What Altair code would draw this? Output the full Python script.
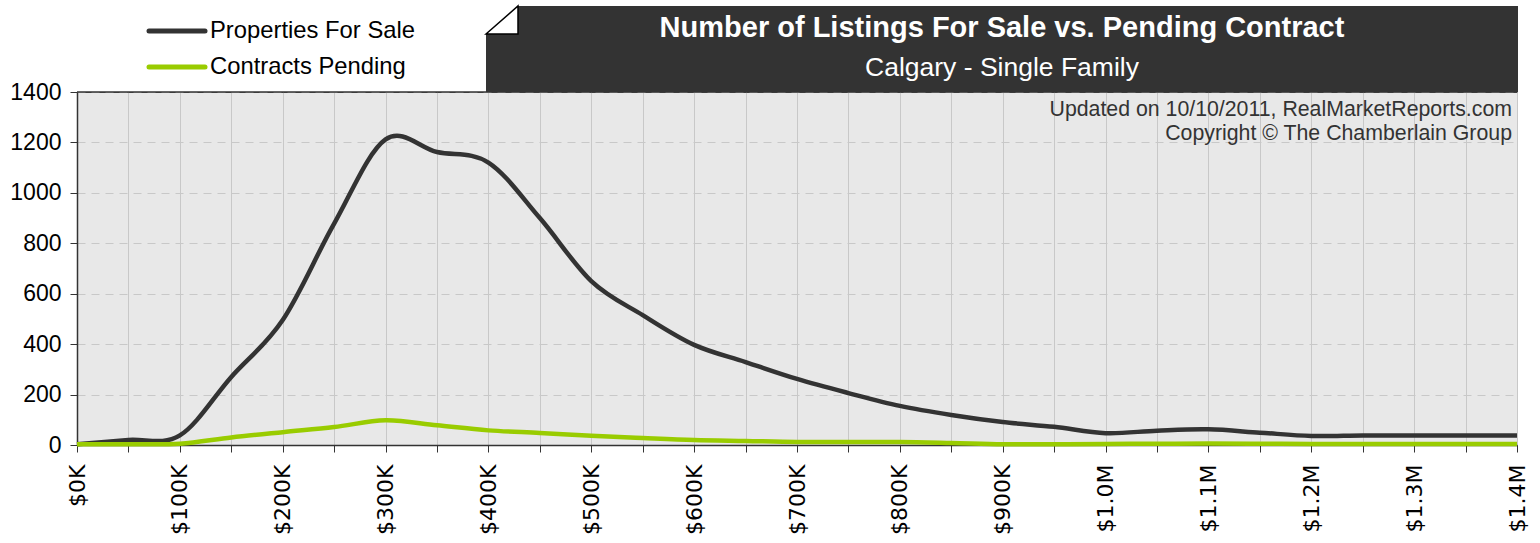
import altair as alt
import pandas as pd

# ---- data ----
prices = [0, 50000, 100000, 150000, 200000, 250000, 300000, 350000, 400000, 450000,
          500000, 550000, 600000, 650000, 700000, 750000, 800000, 850000, 900000, 950000,
          1000000, 1050000, 1100000, 1150000, 1200000, 1250000, 1300000, 1350000, 1400000]
for_sale = [3, 20, 38, 270, 496, 878, 1212, 1162, 1120, 900,
            650, 515, 397, 329, 262, 206, 155, 119, 91, 72,
            47, 57, 62, 49, 36, 38, 38, 38, 38]
pending = [3, 3, 5, 30, 51, 71, 98, 78, 58, 48,
           37, 28, 20, 16, 12, 12, 12, 8, 3, 3,
           4, 5, 6, 5, 4, 4, 4, 4, 4]
series_names = ["Properties For Sale", "Contracts Pending"]
series_colors = ["#333333", "#99cc00"]
x_ticks = list(range(0, 1400001, 50000))
y_ticks = [0, 200, 400, 600, 800, 1000, 1200, 1400]

title_text = "Number of Listings For Sale vs. Pending Contract"
subtitle_text = "Calgary - Single Family"
credit_lines = ["Updated on 10/10/2011, RealMarketReports.com",
                "Copyright \u00a9 The Chamberlain Group"]

rows = []
for p, v in zip(prices, for_sale):
    rows.append({"series": series_names[0], "price": p, "count": v})
for p, v in zip(prices, pending):
    rows.append({"series": series_names[1], "price": p, "count": v})
df = pd.DataFrame(rows)

W, H = 1440, 353
FONT = "Liberation Sans"

x_enc = alt.X(
    "price:Q",
    scale=alt.Scale(domain=[0, 1400000], nice=False, zero=False),
    axis=alt.Axis(
        title=None, values=x_ticks, grid=True, gridColor="#c8c8c8", gridWidth=1,
        labelExpr="datum.value % 100000 === 0 ? (datum.value < 1000000 ? '$' + (datum.value/1000) + 'K' : '$' + format(datum.value/1000000, '.1f') + 'M') : ''",
        labelAngle=270, labelAlign="right", labelBaseline="middle",
        labelFont="DejaVu Sans", labelFontSize=22, labelColor="#000000",
        labelPadding=12, tickSize=7, tickColor="#333333", domainColor="#333333",
        domainWidth=1.5, labelOverlap=False, labelFlush=False,
    ),
)
y_enc = alt.Y(
    "count:Q",
    scale=alt.Scale(domain=[0, 1400], nice=False),
    axis=alt.Axis(
        title=None, values=y_ticks, format="d", grid=True, gridColor="#c8c8c8", gridDash=[8, 6],
        gridWidth=1, labelFont=FONT, labelFontSize=23, labelColor="#000000",
        labelPadding=9, tickSize=7, tickColor="#333333", domainColor="#333333",
        domainWidth=1.5, labelFlush=False,
    ),
)

lines = alt.Chart(df).mark_line(interpolate="cardinal", strokeWidth=4.5).encode(
    x=x_enc,
    y=y_enc,
    color=alt.Color("series:N", scale=alt.Scale(domain=series_names, range=series_colors), legend=None),
    order=alt.Order("price:Q"),
)

one = pd.DataFrame({"a": [0]})
base = alt.Chart(one)

# top border of the plot area
top_border = base.mark_rule(color="#333333", strokeWidth=1.5).encode(
    x=alt.value(0), x2=alt.value(W), y=alt.value(0))

# title box (folded-corner banner)
box_low = base.mark_rect(color="#333333").encode(
    x=alt.value(409), x2=alt.value(1441), y=alt.value(-58), y2=alt.value(0))
box_high = base.mark_rect(color="#333333").encode(
    x=alt.value(441), x2=alt.value(1441), y=alt.value(-86), y2=alt.value(-57))
corner = base.mark_point(
    shape="M-1,0.875L1,-0.875L1,0.875Z", size=1024, filled=True,
    fill="#ffffff", stroke="#000000", strokeWidth=1.5, opacity=1,
).encode(x=alt.value(425), y=alt.value(-72))

title = base.mark_text(
    text=title_text, font=FONT, fontSize=29, fontWeight="bold", color="#ffffff",
    align="center", baseline="alphabetic",
).encode(x=alt.value(925), y=alt.value(-55))
subtitle = base.mark_text(
    text=subtitle_text, font=FONT, fontSize=26.5, color="#ffffff",
    align="center", baseline="alphabetic",
).encode(x=alt.value(925), y=alt.value(-16))

credit1 = base.mark_text(
    text=credit_lines[0], font=FONT, fontSize=21.3, color="#333333",
    align="right", baseline="middle",
).encode(x=alt.value(1435), y=alt.value(18))
credit2 = base.mark_text(
    text=credit_lines[1], font=FONT, fontSize=21.3, color="#333333",
    align="right", baseline="middle",
).encode(x=alt.value(1435), y=alt.value(42))

# legend
leg_layers = []
for i, (name, col) in enumerate(zip(series_names, series_colors)):
    yy = -61 + 36 * i
    leg_layers.append(base.mark_rule(color=col, strokeWidth=5, strokeCap="round").encode(
        x=alt.value(72), x2=alt.value(128), y=alt.value(yy)))
    leg_layers.append(base.mark_text(
        text=name, font=FONT, fontSize=23.8, color="#000000", align="left", baseline="middle",
    ).encode(x=alt.value(133), y=alt.value(yy)))

chart = alt.layer(
    lines, top_border, box_low, box_high, corner, title, subtitle, credit1, credit2, *leg_layers
).properties(
    width=W, height=H,
    padding={"left": 77, "top": 92, "right": 23, "bottom": 98},
    autosize=alt.AutoSizeParams(type="none"),
    background="#ffffff",
).configure_view(
    fill="#e8e8e8", stroke="#555555", strokeWidth=1,
)

chart.save("out.html", embed_options={"renderer": "svg", "actions": False})
